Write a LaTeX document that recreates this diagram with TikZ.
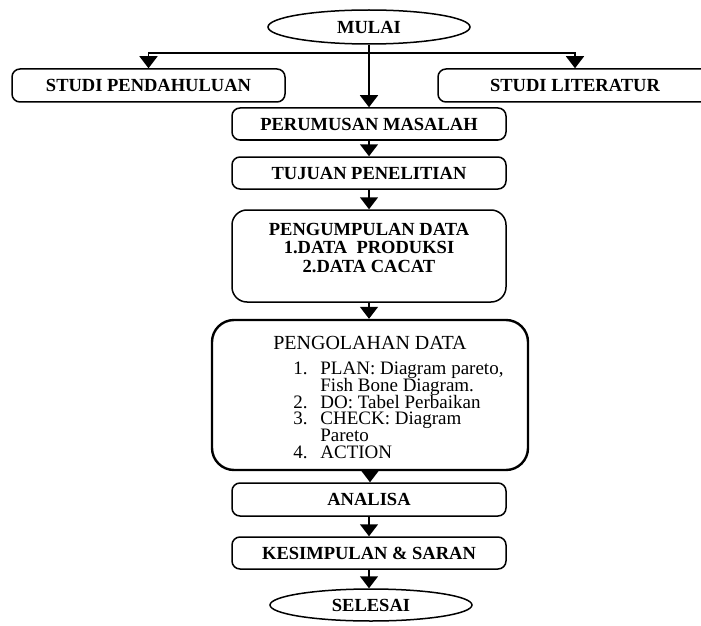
\documentclass[tikz,border=0pt]{standalone}
\usepackage{fontspec}
\setmainfont{Liberation Serif}
\usetikzlibrary{arrows.meta,positioning,shapes.geometric}
\tikzset{
  stepbox/.style={draw, rounded corners=4pt, line width=0.75pt, inner sep=0pt,
    minimum width=137pt, minimum height=16pt,
    font=\fontsize{9.25}{10}\selectfont\bfseries},
  termnode/.style={draw, ellipse, line width=0.75pt, inner sep=0pt,
    minimum width=101pt, minimum height=17pt,
    font=\fontsize{9.25}{10}\selectfont\bfseries},
  flowln/.style={-{Triangle[length=6pt,width=9pt]}, line width=0.75pt},
  itemtext/.style={inner sep=0pt, font=\fontsize{9.5}{10}\selectfont},
}
\begin{document}
\begin{tikzpicture}[x=0.5pt, y=-0.5pt]
    \useasboundingbox (0,0) rectangle (701,626);
    \clip (0,0) rectangle (701,626);
    % start and the two side studies
    \node[termnode] (mulai) at (369,27) {MULAI};
    \node[stepbox, minimum width=136.5pt, minimum height=16.5pt] (studipend)
      at (148.5,85.5) {STUDI PENDAHULUAN};
    \node[stepbox, minimum height=16.5pt] (studilit)
      at (575,85.5) {STUDI LITERATUR};
    \coordinate (cabang) at (369,53);
    \draw[flowln] (cabang) -| (studipend.north);
    \draw[flowln] (cabang) -| (studilit.north);
    % main column
    \node[stepbox] (rumusan) at (369,124) {PERUMUSAN MASALAH};
    \node[stepbox] (tujuan) at (369,173) {TUJUAN PENELITIAN};
    \node[stepbox, rounded corners=7.5pt, minimum height=46pt] (kumpul)
      at (369,256) {};
    \node[align=center, inner sep=0pt,
      font=\fontsize{9.25}{9.3}\selectfont\bfseries] (kumpultext) at (369,248)
      {PENGUMPULAN DATA\\1.DATA\ \ PRODUKSI\\2.DATA CACAT};
    \node[stepbox, rounded corners=11pt, line width=1.2pt,
      minimum width=158pt, minimum height=75pt] (olah) at (370,395) {};
    \node[inner sep=0pt, font=\fontsize{10}{10}\selectfont] (olahtitle)
      at (370,343) {PENGOLAHAN DATA};
    \foreach \y/\num/\txt [count=\i] in {374/1./{PLAN: Diagram pareto,},
        391//{Fish Bone Diagram.}, 408/2./{DO: Tabel Perbaikan},
        424/3./{CHECK: Diagram}, 441//{Pareto}, 458/4./{ACTION}} {
      \node[itemtext, anchor=base west] (num\i) at (293,\y) {\num};
      \node[itemtext, anchor=base west] (item\i) at (320,\y) {\txt};
    }
    \node[stepbox, minimum height=16.5pt] (analisa) at (369,499.5) {ANALISA};
    \node[stepbox] (simpul) at (369,553) {KESIMPULAN \& SARAN};
    \node[termnode, minimum height=16pt] (selesai) at (371,605) {SELESAI};
    % arrows down the column
    \draw[flowln] (mulai.south) -- (mulai.south |- rumusan.north);
    \foreach \a/\b in {rumusan/tujuan, tujuan/kumpul, kumpul/olah,
        olah/analisa, analisa/simpul, simpul/selesai} {
      \draw[flowln] (\a.south) -- (\a.south |- \b.north);
    }
  \end{tikzpicture}
\end{document}
